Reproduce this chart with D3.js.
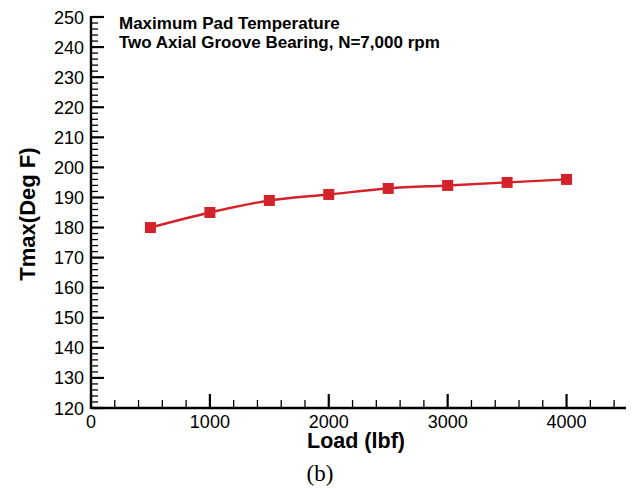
<!DOCTYPE html>
<html>
<head>
<meta charset="utf-8">
<script src="https://cdn.jsdelivr.net/npm/d3@7"></script>
<style>
  body { margin: 0; background: #fff; }
  svg { display: block; }
</style>
</head>
<body>
<div id="chart"></div>
<script>
const loads = [500, 1000, 1500, 2000, 2500, 3000, 3500, 4000];
const tmax = [180, 185, 189, 191, 193, 194, 195, 196];
const xTicks = [0, 1000, 2000, 3000, 4000];
const yTicks = [120, 130, 140, 150, 160, 170, 180, 190, 200, 210, 220, 230, 240, 250];
const titleLines = ["Maximum Pad Temperature", "Two Axial Groove Bearing, N=7,000 rpm"];

const width = 642, height = 489;
const red = "#d3222a";
const font = "Liberation Sans, Arial, sans-serif";

const svg = d3.select("#chart").append("svg")
    .attr("width", width)
    .attr("height", height);

const x = d3.scaleLinear().domain([0, 4500]).range([91, 626]);
const y = d3.scaleLinear().domain([120, 250]).range([408, 17]);

// minor ticks
const xMinor = d3.range(0, 4501, 200).filter(v => v % 1000 !== 0);
const yMinor = d3.range(120, 251, 2).filter(v => v % 10 !== 0);

svg.append("g").selectAll("line")
    .data(xMinor)
    .join("line")
    .attr("x1", d => x(d)).attr("x2", d => x(d))
    .attr("y1", y(120)).attr("y2", y(120) - 8)
    .attr("stroke", "#000").attr("stroke-width", 1.3);

svg.append("g").selectAll("line")
    .data(yMinor)
    .join("line")
    .attr("x1", x(0)).attr("x2", x(0) + 7)
    .attr("y1", d => y(d)).attr("y2", d => y(d))
    .attr("stroke", "#000").attr("stroke-width", 1.3);

// major ticks
svg.append("g").selectAll("line")
    .data(xTicks)
    .join("line")
    .attr("x1", d => x(d)).attr("x2", d => x(d))
    .attr("y1", y(120)).attr("y2", y(120) - 14)
    .attr("stroke", "#000").attr("stroke-width", 2.2);

svg.append("g").selectAll("line")
    .data(yTicks)
    .join("line")
    .attr("x1", x(0)).attr("x2", x(0) + 13)
    .attr("y1", d => y(d)).attr("y2", d => y(d))
    .attr("stroke", "#000").attr("stroke-width", 2.2);

// axis lines
svg.append("line")
    .attr("x1", x(0)).attr("x2", x(4500))
    .attr("y1", y(120)).attr("y2", y(120))
    .attr("stroke", "#000").attr("stroke-width", 2.4);
svg.append("line")
    .attr("x1", x(0)).attr("x2", x(0))
    .attr("y1", y(120) + 1).attr("y2", y(250) - 1)
    .attr("stroke", "#000").attr("stroke-width", 2.4);

// tick labels
svg.append("g").selectAll("text")
    .data(xTicks)
    .join("text")
    .attr("x", d => x(d))
    .attr("y", y(120) + 20)
    .attr("text-anchor", "middle")
    .attr("font-family", font)
    .attr("font-size", 18)
    .text(d => d);

svg.append("g").selectAll("text")
    .data(yTicks)
    .join("text")
    .attr("x", x(0) - 7)
    .attr("y", d => y(d) + 6.5)
    .attr("text-anchor", "end")
    .attr("font-family", font)
    .attr("font-size", 18)
    .text(d => d);

// axis titles
svg.append("text")
    .attr("x", 356)
    .attr("y", 448)
    .attr("text-anchor", "middle")
    .attr("font-family", font)
    .attr("font-weight", "bold")
    .attr("font-size", 21.5)
    .text("Load (lbf)");

svg.append("text")
    .attr("transform", `translate(35,214) rotate(-90)`)
    .attr("text-anchor", "middle")
    .attr("font-family", font)
    .attr("font-weight", "bold")
    .attr("font-size", 22)
    .text("Tmax(Deg F)");

// title
svg.append("g").selectAll("text")
    .data(titleLines)
    .join("text")
    .attr("x", 119)
    .attr("y", (d, i) => 29 + i * 19)
    .attr("font-family", font)
    .attr("font-weight", "bold")
    .attr("font-size", 17)
    .text(d => d);

// caption
svg.append("text")
    .attr("x", 320)
    .attr("y", 481)
    .attr("text-anchor", "middle")
    .attr("font-family", "Liberation Serif, Times New Roman, serif")
    .attr("font-size", 23)
    .text("(b)");

// series
const pts = loads.map((l, i) => [l, tmax[i]]);
const line = d3.line()
    .x(d => x(d[0]))
    .y(d => y(d[1]))
    .curve(d3.curveMonotoneX);

svg.append("path")
    .datum(pts)
    .attr("d", line)
    .attr("fill", "none")
    .attr("stroke", red)
    .attr("stroke-width", 2.4);

const size = 11;
svg.append("g").selectAll("rect")
    .data(pts)
    .join("rect")
    .attr("x", d => x(d[0]) - size / 2)
    .attr("y", d => y(d[1]) - size / 2)
    .attr("width", size)
    .attr("height", size)
    .attr("fill", red);
</script>
</body>
</html>
